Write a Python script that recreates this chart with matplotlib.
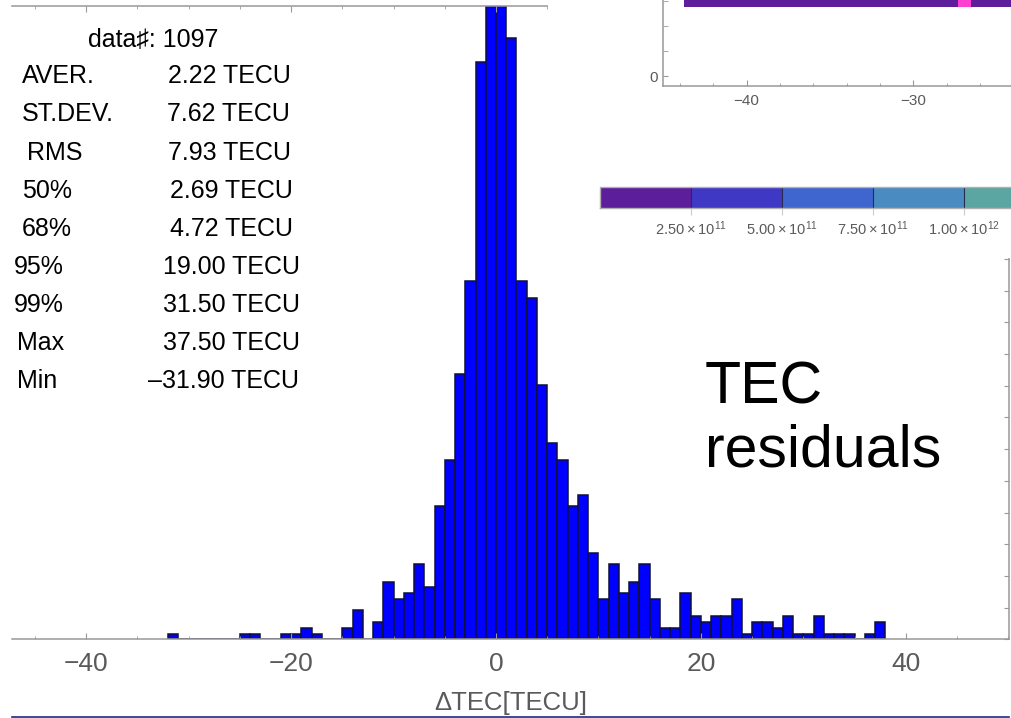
import numpy as np
import matplotlib
matplotlib.use("Agg")
import matplotlib.pyplot as plt
from matplotlib.colors import ListedColormap, BoundaryNorm
from matplotlib.cm import ScalarMappable
from matplotlib.lines import Line2D
from matplotlib.ticker import MultipleLocator

plt.rcParams['font.family'] = ['Liberation Sans', 'DejaVu Sans']
plt.rcParams['mathtext.fontset'] = 'custom'
plt.rcParams['mathtext.rm'] = 'Liberation Sans'

# residual histogram, 1 TECU bins starting at -32
bin_left = np.arange(-32, 38)
counts = [1, 0, 0, 0, 0, 0, 0, 1, 1, 0,
          0, 1, 1, 2, 1, 0, 0, 2, 5, 0,
          3, 10, 7, 8, 13, 9, 23, 31, 46, 62,
          100, 126, 129, 104, 62, 59, 44, 34, 31, 23,
          25, 15, 7, 13, 8, 10, 13, 7, 2, 2,
          8, 4, 3, 4, 4, 7, 1, 3, 3, 2,
          4, 1, 1, 4, 1, 1, 1, 0, 1, 3]
n_total = 1097

stat_names = ["AVER.", "ST.DEV.", "RMS", "50%", "68%", "95%", "99%", "Max", "Min"]
stat_values = [2.22, 7.62, 7.93, 2.69, 4.72, 19.00, 31.50, 37.50, -31.90]

# strip of the map panel and its colour scale
strip_left = [-43.75, -27.3, -26.55]
strip_width = [16.45, 0.75, 5.0]
strip_colors = ["#5e1e9b", "#ff3fd2", "#5e1e9b"]
cbar_bounds = [0, 2.5e11, 5.0e11, 7.5e11, 1.0e12, 1.25e12]
cbar_colors = ["#5c1e9a", "#3f38c4", "#3f66cf", "#4a8bc2", "#5ba6a2"]
cbar_labels = ["2.50", "5.00", "7.50", "1.00"]
cbar_exps = [11, 11, 11, 12]

W, H = 1012, 718
GRAY = "#999999"
TXT = "#5a5a5a"
STAT_FS = 18


def rect(x0, y0, x1, y1):
    # pixel box (top-left origin) -> figure fraction
    return [x0 / W, 1 - y1 / H, (x1 - x0) / W, (y1 - y0) / H]


fig = plt.figure(figsize=(W / 100, H / 100), dpi=100)

ax = fig.add_axes(rect(11.7, 5.5, 1009, 639.3))
pct = np.array(counts) / n_total * 100
ax.bar(bin_left, pct, width=1.0, align='edge', color='#0000ff',
       edgecolor='#10103a', linewidth=1.1)
ax.set_xlim(-47.25, 50.05)
ax.set_ylim(0, 10)
ax.spines['left'].set_visible(False)
for s in ['top', 'right', 'bottom']:
    ax.spines[s].set_color(GRAY)
    ax.spines[s].set_linewidth(1.1)
ax.xaxis.set_major_locator(MultipleLocator(20))
ax.xaxis.set_minor_locator(MultipleLocator(5))
ax.yaxis.set_major_locator(MultipleLocator(0.5))
ax.tick_params(axis='x', which='both', direction='in', top=True, bottom=True,
               color=GRAY, labelcolor=TXT, labelsize=19, pad=9)
ax.tick_params(axis='x', which='major', length=4)
ax.tick_params(axis='x', which='minor', length=2.4)
ax.tick_params(axis='y', which='both', direction='in', left=False, right=True,
               labelleft=False, color=GRAY, length=3.6)
ax.set_xticklabels([f"{int(v)}".replace('-', '\u2212') for v in ax.get_xticks()])
ax.set_xlabel("\u0394TEC[TECU]", color=TXT, fontsize=18.5, labelpad=11)

# summary statistics block
fig.text(88 / W, 1 - 46.7 / H, f"data\u266f: {n_total}", fontsize=STAT_FS, va='baseline')
name_x = [22, 22, 27, 22, 22, 14, 14, 17, 17]
val_x = [168, 167, 168, 170, 170, 163, 163, 163, 148]
for i, (nm, v) in enumerate(zip(stat_names, stat_values)):
    yb = 1 - (83.3 + 38.1 * i) / H
    fig.text(name_x[i] / W, yb, nm, fontsize=STAT_FS, va='baseline')
    fig.text(val_x[i] / W, yb, f"{v:.2f} TECU".replace('-', '\u2013'),
             fontsize=STAT_FS, va='baseline')

fig.text(705 / W, 1 - 403 / H, "TEC", fontsize=42.5, va='baseline')
fig.text(705 / W, 1 - 466.7 / H, "residuals", fontsize=42.5, va='baseline')

# white panel holding the map strip and colour scale
cover = fig.add_axes(rect(548, 0, 1012, 258))
cover.set_facecolor('white')
cover.set_xticks([])
cover.set_yticks([])
for s in cover.spines.values():
    s.set_visible(False)

ax_in = fig.add_axes(rect(663.3, 0, 1012, 86))
ax_in.barh(3.0, strip_width, left=strip_left, height=0.5, color=strip_colors)
ax_in.set_xlim(-45, -45 + (1012 - 663.3) / 16.67)
ax_in.set_ylim(-0.4, 3.04)
ax_in.patch.set_alpha(0)
ax_in.spines['top'].set_visible(False)
ax_in.spines['right'].set_visible(False)
for s in ['left', 'bottom']:
    ax_in.spines[s].set_color(GRAY)
    ax_in.spines[s].set_linewidth(1.1)
ax_in.xaxis.set_major_locator(MultipleLocator(10))
ax_in.xaxis.set_minor_locator(MultipleLocator(2))
ax_in.set_yticks([0])
ax_in.set_yticks([1, 2, 3], minor=True)
ax_in.tick_params(which='both', direction='in', color=GRAY, labelcolor=TXT,
                  labelsize=11)
ax_in.tick_params(axis='x', which='major', length=4.5, pad=6)
ax_in.tick_params(axis='x', which='minor', length=2.4)
ax_in.tick_params(axis='y', which='both', length=3.6, pad=4)
ax_in.set_xticklabels([f"{int(v)}".replace('-', '\u2212') for v in ax_in.get_xticks()])

cax = fig.add_axes(rect(600, 186.7, 600 + 5 * 91, 208.3))
cmap = ListedColormap(cbar_colors)
norm = BoundaryNorm(cbar_bounds, cmap.N)
cb = fig.colorbar(ScalarMappable(norm=norm, cmap=cmap), cax=cax,
                  orientation='horizontal', drawedges=True)
cb.outline.set_edgecolor('#b0b0b0')
cb.outline.set_linewidth(1.0)
cb.dividers.set_color('#2a2a50')
cb.dividers.set_linewidth(0.8)
cb.set_ticks(cbar_bounds[1:5])
cb.set_ticklabels([rf"$\mathregular{{{m}\times10^{{{e}}}}}$"
                   for m, e in zip(cbar_labels, cbar_exps)])
cax.tick_params(length=5, color='#cccccc', labelcolor=TXT, labelsize=10.5, pad=3)
cax.minorticks_off()

fig.add_artist(Line2D([11.7 / W, 1009 / W], [1 - 716.5 / H] * 2,
                      color='#1c2a80', linewidth=1.2))

fig.savefig("out.png", dpi=100)
